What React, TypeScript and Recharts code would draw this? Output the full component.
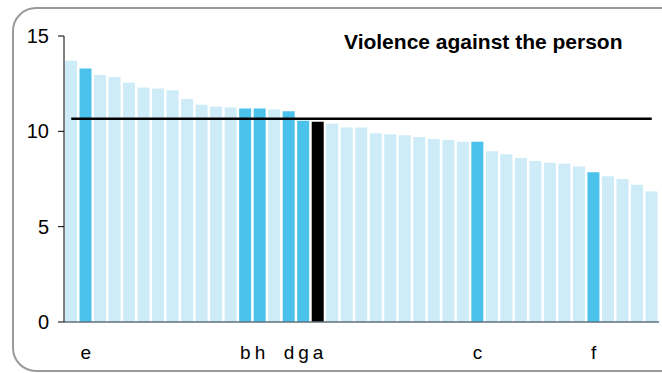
import React from 'react';
import { BarChart, Bar, Cell, XAxis, YAxis, ReferenceLine } from 'recharts';

// area labels (only highlighted areas carry a letter)
const labels = [
  '', 'e', '', '', '', '', '', '', '', '', '', '', 'b', 'h', '', 'd', 'g', 'a', '', '',
  '', '', '', '', '', '', '', '', 'c', '', '', '', '', '', '', '', 'f', '', '', '', '',
];

// rate per area, sorted
const rates = [
  13.7, 13.3, 12.95, 12.85, 12.55, 12.3, 12.25, 12.15, 11.7, 11.4, 11.3, 11.25, 11.2, 11.2,
  11.15, 11.05, 10.55, 10.5, 10.4, 10.2, 10.2, 9.9, 9.85, 9.8, 9.7, 9.6, 9.55, 9.45, 9.45,
  8.95, 8.8, 8.6, 8.45, 8.35, 8.3, 8.15, 7.85, 7.65, 7.5, 7.2, 6.85,
];

// 0 = other area, 1 = comparison area, 2 = this area
const kinds = [
  0, 1, 0, 0, 0, 0, 0, 0, 0, 0, 0, 0, 1, 1, 0, 1, 1, 2, 0, 0,
  0, 0, 0, 0, 0, 0, 0, 0, 1, 0, 0, 0, 0, 0, 0, 0, 1, 0, 0, 0, 0,
];

const average = 10.66;
const yTicks = [0, 5, 10, 15];

const colors = ['#cdecf8', '#4bc2ec', '#000000'];

const data = rates.map((value, i) => ({ idx: i, label: labels[i], value, kind: kinds[i] }));

const font = '"Liberation Sans", Arial, sans-serif';

export default function App() {
  return (
    <div style={{ position: 'absolute', left: 0, top: 0, width: 662, height: 373, overflow: 'hidden', background: '#fff' }}>
      <div
        style={{
          position: 'absolute',
          left: 12,
          top: 7,
          width: 672,
          height: 365,
          boxSizing: 'border-box',
          border: '2px solid #9a9a9a',
          borderRadius: 24,
        }}
      />
      <div
        style={{
          position: 'absolute',
          left: 344,
          top: 30,
          fontFamily: font,
          fontWeight: 'bold',
          fontSize: 21,
          color: '#000',
          whiteSpace: 'nowrap',
        }}
      >
        Violence against the person
      </div>
      <div style={{ position: 'absolute', left: 0, top: 0 }}>
        <BarChart width={662} height={373} data={data} margin={{ top: 36, right: 3, left: 0, bottom: 21 }}>
          <XAxis
            dataKey="idx"
            height={30}
            interval={0}
            tickFormatter={(i) => labels[i]}
            tickLine={false}
            tickSize={0}
            tickMargin={24}
            axisLine={{ stroke: '#5f717c', strokeWidth: 1.5 }}
            tick={{ fill: '#000', fontSize: 19, fontFamily: font }}
          />
          <YAxis
            width={64}
            domain={[0, 15]}
            ticks={yTicks}
            tickSize={6}
            tickMargin={9}
            axisLine={{ stroke: '#000' }}
            tickLine={{ stroke: '#000' }}
            tick={{ fill: '#000', fontSize: 20, fontFamily: font }}
          />
          <Bar dataKey="value" barSize={12} isAnimationActive={false}>
            {data.map((d) => (
              <Cell key={d.idx} fill={colors[d.kind]} />
            ))}
          </Bar>
          <ReferenceLine
            segment={[
              { x: 0, y: average },
              { x: rates.length - 1, y: average },
            ]}
            stroke="#000"
            strokeWidth={2.5}
          />
        </BarChart>
      </div>
    </div>
  );
}
